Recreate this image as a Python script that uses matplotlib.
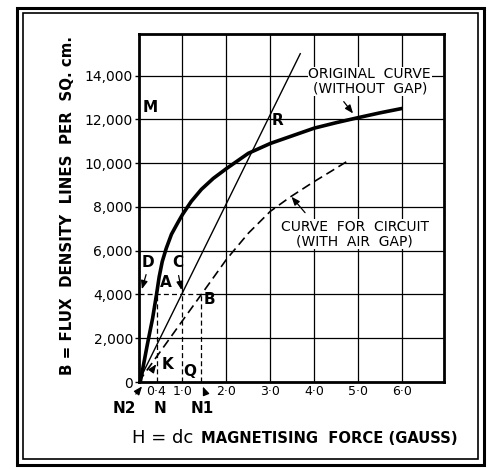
import matplotlib.pyplot as plt
from matplotlib.patches import Rectangle

# original curve (without gap)
h_orig = [0.04, 0.2, 0.32, 0.41, 0.47, 0.54, 0.63, 0.75, 0.9, 1.0, 1.2, 1.43, 1.7, 2.0,
          2.5, 3.0, 3.5, 4.0, 4.5, 5.0, 5.5, 6.0]
b_orig = [0, 1700, 2900, 4000, 4800, 5500, 6100, 6750, 7300, 7650, 8250, 8800, 9300, 9750,
          10450, 10900, 11250, 11600, 11850, 12080, 12300, 12500]

# curve for circuit (with air gap)
h_gap = [0, 0.5, 1.0, 1.43, 2.0, 2.5, 3.0, 3.45, 3.95, 4.4, 4.8]
b_gap = [0, 1400, 2800, 4000, 5600, 6800, 7800, 8450, 9100, 9650, 10150]

# straight line through origin
h_line = [0, 3.68]
b_line = [0, 15000]

# working points at B = 4000
h_n, h_q, h_n1 = 0.41, 1.0, 1.43
b_work = 4000

x_ticks = [0.4, 1, 2, 3, 4, 5, 6]
x_tick_labels = ['0·4', '1·0', '2·0', '3·0', '4·0', '5·0', '6·0']
y_ticks = [0, 2000, 4000, 6000, 8000, 10000, 12000, 14000]
y_tick_labels = ['0', '2,000', '4,000', '6,000', '8,000', '10,000', '12,000', '14,000']

xmax, ymax = 6.95, 15900

fig = plt.figure(figsize=(4.91, 4.69), dpi=100)
ax = fig.add_axes([138.5 / 491, 1 - 382 / 469, 305.5 / 491, 348 / 469])
ax.set_xlim(0, xmax)
ax.set_ylim(0, ymax)

# grid, some parts dashed
grid_kw = dict(color='black', lw=0.9, zorder=1)
dash_kw = dict(color='black', lw=0.9, ls=(0, (4, 2.5)), zorder=1)
for x in [1, 2, 3, 4, 5, 6]:
    if x == 1:
        ax.plot([x, x], [b_work, ymax], **grid_kw)
        ax.plot([x, x], [0, b_work], **dash_kw)
    else:
        ax.plot([x, x], [0, ymax], **grid_kw)
for y in y_ticks[1:]:
    if y == b_work:
        ax.plot([h_n1, xmax], [y, y], **grid_kw)
        ax.plot([0, h_n1], [y, y], **dash_kw)
    else:
        ax.plot([0, xmax], [y, y], **grid_kw)
ax.plot([h_n, h_n], [0, b_work], **dash_kw)
ax.plot([h_n1, h_n1], [0, b_work], **dash_kw)

# curves
ax.plot(h_orig, b_orig, color='black', lw=2.6, solid_capstyle='butt',
        solid_joinstyle='round', zorder=3)
ax.plot(h_gap, b_gap, color='black', lw=1.2, ls=(0, (5.5, 3)), zorder=3)
ax.plot(h_line, b_line, color='black', lw=1.0, zorder=3)

# axes
for s in ax.spines.values():
    s.set_linewidth(2)
ax.set_xticks(x_ticks)
ax.set_xticklabels(x_tick_labels, fontsize=9)
ax.set_yticks(y_ticks)
ax.set_yticklabels(y_tick_labels, fontsize=10)
ax.tick_params(axis='x', length=0, pad=2)
ax.tick_params(axis='y', length=3, width=1, pad=1)

# letters
lab = dict(fontsize=11, fontweight='bold', ha='center', va='center', zorder=5)
ax.text(0.26, 12540, 'M', **lab)
ax.text(3.17, 11950, 'R', **lab)
ax.text(0.22, 5450, 'D', **lab)
ax.text(0.9, 5450, 'C', **lab)
ax.text(0.63, 4530, 'A', **lab)
ax.text(1.62, 3750, 'B', **lab)
ax.text(0.67, 780, 'K', **lab)
ax.text(1.17, 500, 'Q', **lab)
ax.text(-0.31, -1200, 'N2', clip_on=False, **lab)
ax.text(0.49, -1200, 'N', clip_on=False, **lab)
ax.text(1.44, -1200, 'N1', clip_on=False, **lab)

arr = dict(arrowstyle='-|>,head_length=0.5,head_width=0.2', color='black', lw=0.9)
ax.annotate('', xy=(0.06, 4120), xytext=(0.19, 5030), arrowprops=arr)
ax.annotate('', xy=(0.99, 4080), xytext=(0.9, 4990), arrowprops=arr)
ax.annotate('', xy=(0.44, 915), xytext=(0.31, 550), arrowprops=arr)
ax.annotate('', xy=(0.12, -100), xytext=(-0.1, -650), arrowprops=arr, annotation_clip=False)
ax.annotate('', xy=(1.44, -90), xytext=(1.56, -690), arrowprops=arr, annotation_clip=False)

box = dict(facecolor='white', edgecolor='none', pad=0.5)
ax.text(5.26, 13730, 'ORIGINAL  CURVE\n(WITHOUT  GAP)', fontsize=10, ha='center',
        va='center', linespacing=1.05, bbox=box, zorder=4)
ax.annotate('', xy=(4.92, 12170), xytext=(4.63, 12910), arrowprops=arr)
ax.text(4.92, 6770, 'CURVE  FOR  CIRCUIT\n(WITH  AIR  GAP)', fontsize=10, ha='center',
        va='center', linespacing=1.05, bbox=box, zorder=4)
ax.annotate('', xy=(3.44, 8560), xytext=(3.83, 7640), arrowprops=arr)

# axis titles
fig.text(68 / 491, 1 - 205 / 469, 'B = FLUX  DENSITY  LINES  PER  SQ. cm.', rotation=90,
         fontsize=10.8, fontweight='bold', ha='center', va='center')
fig.text(132 / 491, 1 - 438 / 469, 'H = dc', fontsize=13, ha='left', va='center')
fig.text(458 / 491, 1 - 438 / 469, 'MAGNETISING  FORCE (GAUSS)', fontsize=10.6,
         fontweight='bold', ha='right', va='center')

# double frame
fig.add_artist(Rectangle((17 / 491, 1 - 465 / 469), 467 / 491, 457 / 469, fill=False,
                         lw=2.2, ec='black', transform=fig.transFigure))
fig.add_artist(Rectangle((22.5 / 491, 1 - 459 / 469), 455.5 / 491, 446 / 469, fill=False,
                         lw=1.2, ec='black', transform=fig.transFigure))

fig.savefig('out.png', dpi=100)
